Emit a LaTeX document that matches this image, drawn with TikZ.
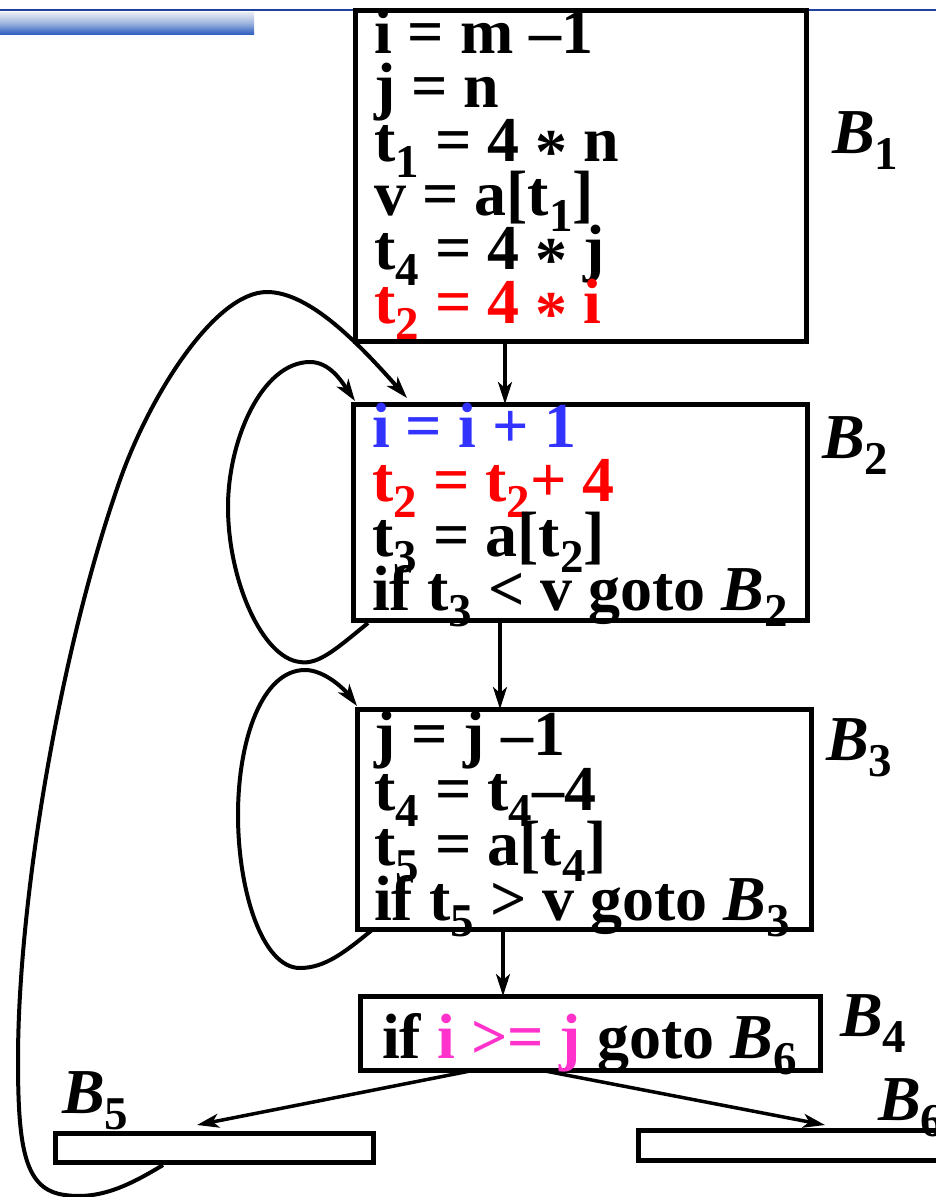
\documentclass[tikz,border=0pt]{standalone}
\usepackage{fontspec}
\setmainfont{Liberation Serif}
\usetikzlibrary{arrows.meta,calc}
\definecolor{myred}{RGB}{255,0,0}
\definecolor{myblue}{RGB}{51,51,255}
\definecolor{mymag}{RGB}{255,51,204}
\definecolor{barblue}{RGB}{48,96,192}
\definecolor{bargray}{RGB}{232,236,242}
\definecolor{lineblue}{RGB}{32,64,160}
\newcommand{\sbs}[1]{\raisebox{-16pt}{\fontsize{47}{47}\selectfont #1}}
\newcommand{\mystar}{\raisebox{-12pt}{*}}
\newcommand{\lbl}[1]{\textit{B}\sbs{#1}}
\begin{document}
\begin{tikzpicture}[x=1pt,y=-1pt,
 box/.style={draw, line width=5pt, rectangle, inner sep=0pt, outer sep=0pt},
 txt/.style={anchor=base west, inner sep=0pt, font=\fontsize{64}{64}\selectfont\bfseries},
 arr/.style={line width=3.5pt, -{Stealth[length=22pt,width=14pt,inset=6pt]}},
 loopc/.style={line width=4pt, -{Stealth[length=22pt,width=14pt,inset=6pt]}}]
\useasboundingbox (0,0) rectangle (936,1197);
% header decoration
\fill[lineblue] (0,9) rectangle (936,11);
\shade[top color=bargray, bottom color=barblue, middle color=bargray!60!barblue] (0,12) rectangle (254,34);
% boxes
\node[box, fill=white, minimum width=451pt, minimum height=331pt] (b1) at (580.5,175.5) {};
\node[box, minimum width=454pt, minimum height=216pt] (b2) at (580,512) {};
\node[box, minimum width=454pt, minimum height=220pt] (b3) at (584,819) {};
\node[box, minimum width=460pt, minimum height=74pt] (b4) at (590,1033) {};
\node[box, minimum width=318pt, minimum height=29pt] (b5) at (214,1147.5) {};
\node[box, minimum width=352pt, minimum height=30pt] (b6) at (814,1145) {};
% B1 text
\node[txt] (b1a) at (374,53) {i = m –1};
\node[txt] (b1b) at (374,107) {j = n};
\node[txt] (b1c) at (374,161) {t\sbs{1} = 4 \mystar{} n};
\node[txt] (b1d) at (374,215) {v = a[t\sbs{1}]};
\node[txt] (b1e) at (374,269) {t\sbs{4} = 4 \mystar{} j};
\node[txt, text=myred] (b1f) at (374,323) {t\sbs{2} = 4 \mystar{} i};
% B2 text
\node[txt, text=myblue] (b2a) at (372,447) {i = i + 1};
\node[txt, text=myred] (b2b) at (372,501) {t\sbs{2} = t\sbs{2}+ 4};
\node[txt] (b2c) at (372,556) {t\sbs{3} = a[t\sbs{2}]};
\node[txt] (b2d) at (372,610) {if t\sbs{3} < v goto \lbl{2}};
% B3 text
\node[txt] (b3a) at (374,755) {j = j –1};
\node[txt] (b3b) at (374,810) {t\sbs{4} = t\sbs{4}–4};
\node[txt] (b3c) at (374,865) {t\sbs{5} = a[t\sbs{4}]};
\node[txt] (b3d) at (374,920) {if t\sbs{5} > v goto \lbl{3}};
% B4 text
\node[txt] (b4a) at (382,1058) {if \textcolor{mymag}{i >= j} goto \lbl{6}};
% labels
\node[txt] (l1) at (832,153) {\lbl{1}};
\node[txt] (l2) at (822,458) {\lbl{2}};
\node[txt] (l3) at (826,760) {\lbl{3}};
\node[txt] (l4) at (840,1036) {\lbl{4}};
\node[txt] (l5) at (62,1113) {\lbl{5}};
\node[txt] (l6) at (878,1120) {\lbl{6}};
% straight arrows
\draw[arr] (505,0 |- b1.south) -- (505,0 |- b2.north);
\draw[arr] (500,0 |- b2.south) -- (500,0 |- b3.north);
\draw[arr] (503,0 |- b3.south) -- (503,0 |- b4.north);
\draw[arr] (475,0 |- b4.south) -- ($(b5.north west)+(142,-8)$);
\draw[arr] (540,0 |- b4.south) -- ($(b6.north west)+(187,-5)$);
% loops
\draw[loopc] ($(b2.south west)+(15,3)$) .. controls (335,650) and (318,665) .. (300,662)
  .. controls (262,658) and (228,580) .. (228,507)
  .. controls (228,440) and (262,362) .. (310,362)
  .. controls (330,362) and (342,382) .. ($(b2.north west)+(2,-3)$);
\draw[loopc] ($(b3.south west)+(15,1)$) .. controls (345,952) and (325,968) .. (300,968)
  .. controls (262,968) and (238,890) .. (238,815)
  .. controls (238,740) and (262,670) .. (305,670)
  .. controls (325,670) and (345,690) .. ($(b3.north west)+(0,-3)$);
\draw[loopc] ($(b5.south west)+(108,3)$) .. controls (130,1185) and (100,1200) .. (65,1195)
  .. controls (25,1190) and (18,1150) .. (18,1060)
  .. controls (18,900) and (60,650) .. (120,480)
  .. controls (150,395) and (215,292) .. (267,292)
  .. controls (310,292) and (360,345) .. ($(b2.north west)+(54,-6)$);
\end{tikzpicture}
\end{document}
